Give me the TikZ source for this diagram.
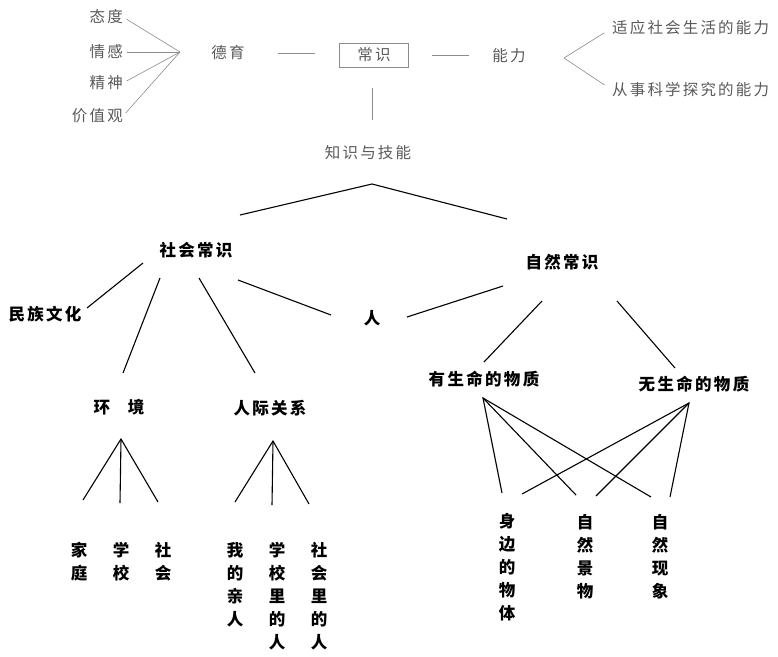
\documentclass[tikz,border=0pt]{standalone}
\usepackage{fontspec}
\newfontfamily\cjk[LetterSpace=14]{Noto Sans CJK SC}
\definecolor{topgray}{gray}{0.35}
\definecolor{toplinegray}{gray}{0.55}
\begin{document}
\begin{tikzpicture}[x=1pt,y=-1pt,every node/.style={inner sep=0pt},
    soft/.style={font=\cjk\fontsize{15.5}{17}\selectfont,text=topgray},
    hard/.style={font=\cjk\bfseries\fontsize{16.5}{23}\selectfont,align=center},
    softline/.style={draw=toplinegray,line width=0.6pt},
    hardline/.style={line width=1.1pt}]
    \useasboundingbox (0,0) rectangle (778,656);
    \node[soft,anchor=east] (taidu) at (123,17) {态度};
    \node[soft,anchor=east] (qinggan) at (123,52) {情感};
    \node[soft,anchor=east] (jingshen) at (123,83) {精神};
    \node[soft,anchor=east] (jiazhiguan) at (123,116) {价值观};
    \coordinate (deyufan) at (180,52);
    \node[soft] (deyu) at (228,53) {德育};
    \node[soft,draw=toplinegray,minimum width=69,minimum height=24] (changshi) at (374,55) {常识};
    \node[soft] (nengli) at (509,56) {能力};
    \coordinate (nenglifan) at (564,58);
    \node[soft,anchor=west] (shiying) at (612,28) {适应社会生活的能力};
    \node[soft,anchor=west] (congshi) at (612,90) {从事科学探究的能力};
    \node[soft] (zhishi) at (368,153) {知识与技能};
    \draw[softline,shorten <=4pt] (taidu.east) -- (deyufan);
    \draw[softline,shorten <=4pt] (qinggan.east) -- (deyufan);
    \draw[softline,shorten <=4pt] (jingshen.east) -- (deyufan);
    \draw[softline,shorten <=4pt] (jiazhiguan.east) -- (deyufan);
    \draw[softline,shorten <=33pt,shorten >=24pt] (deyu.east) -- (deyu.east -| changshi.west);
    \draw[softline,shorten <=21pt,shorten >=26pt] ([xshift=-2pt]changshi.south) -- ([xshift=-2pt]changshi.south |- zhishi.north);
    \draw[softline,shorten <=23pt,shorten >=23pt] (changshi.east) -- (changshi.east -| nengli.west);
    \draw[softline,shorten <=9pt,shorten >=9pt] (shiying.west) -- (nenglifan) -- (congshi.west);
    \node[hard] (shehuichangshi) at (196,250) {社会常识};
    \node[hard] (ziranchangshi) at (562,262) {自然常识};
    \coordinate (fork) at (372,184);
    \node[hard] (minzuwenhua) at (45,314) {民族文化};
    \node[hard] (ren) at (372,318) {人};
    \node[hard] (huanjing) at (119,407) {环\hspace{18pt}境};
    \node[hard] (renjiguanxi) at (270,408) {人际关系};
    \node[hard] (youshengming) at (484,379) {有生命的物质};
    \node[hard] (wushengming) at (694,384) {无生命的物质};
    \node[hard] (jiating) at (79,561.5) {家\\庭};
    \node[hard] (xuexiao) at (121,561.5) {学\\校};
    \node[hard] (shehui) at (163,561.5) {社\\会};
    \node[hard] (wodeqinren) at (235,585) {我\\的\\亲\\人};
    \node[hard] (xuexiaoren) at (277,596.5) {学\\校\\里\\的\\人};
    \node[hard] (shehuiren) at (319,596.5) {社\\会\\里\\的\\人};
    \node[hard] (shenbian) at (507,567.5) {身\\边\\的\\物\\体};
    \node[hard] (jingwu) at (585,556.5) {自\\然\\景\\物};
    \node[hard] (xianxiang) at (660,556.5) {自\\然\\现\\象};
    \draw[hardline] ([shift={(44,-35)}]shehuichangshi.center) -- (fork) -- ([shift={(-55,-43)}]ziranchangshi.center);
    \draw[hardline] ([shift={(42,-6)}]minzuwenhua.center) -- ([shift={(-53,13)}]shehuichangshi.center);
    \draw[hardline] ([shift={(-36,28)}]shehuichangshi.center) -- ([shift={(4,-34)}]huanjing.center);
    \draw[hardline] ([shift={(3,28)}]shehuichangshi.center) -- ([shift={(-15,-35)}]renjiguanxi.center);
    \draw[hardline] ([shift={(42,30)}]shehuichangshi.center) -- ([shift={(-41,-3)}]ren.center);
    \draw[hardline] ([shift={(35,-1)}]ren.center) -- ([shift={(-59,24)}]ziranchangshi.center);
    \draw[hardline] ([shift={(-20,39)}]ziranchangshi.center) -- ([shift={(0,-17)}]youshengming.center);
    \draw[hardline] ([shift={(55,39)}]ziranchangshi.center) -- ([shift={(-19,-16)}]wushengming.center);
    \coordinate (huanjingfan) at ([shift={(2,32)}]huanjing.center);
    \draw[hardline] ([shift={(4,-61.5)}]jiating.center) -- (huanjingfan) -- ([shift={(-5,-59.5)}]shehui.center);
    \draw[hardline] (huanjingfan) -- ([shift={(-1,-58.5)}]xuexiao.center);
    \coordinate (renjifan) at ([shift={(3,33)}]renjiguanxi.center);
    \draw[hardline] ([shift={(0,-83)}]wodeqinren.center) -- (renjifan) -- ([shift={(-10,-92.5)}]shehuiren.center);
    \draw[hardline] (renjifan) -- ([shift={(-5,-91.5)}]xuexiaoren.center);
    \coordinate (youfan) at ([shift={(-1,19)}]youshengming.center);
    \coordinate (wufan) at ([shift={(-5,19)}]wushengming.center);
    \draw[hardline] ([shift={(-5,-74.5)}]shenbian.center) -- (youfan) -- ([shift={(-9,-59.5)}]xianxiang.center);
    \draw[hardline] (youfan) -- ([shift={(-9,-61.5)}]jingwu.center);
    \draw[hardline] ([shift={(15,-73.5)}]shenbian.center) -- (wufan) -- ([shift={(10,-59.5)}]xianxiang.center);
    \draw[hardline] (wufan) -- ([shift={(11,-60.5)}]jingwu.center);
\end{tikzpicture}
\end{document}
